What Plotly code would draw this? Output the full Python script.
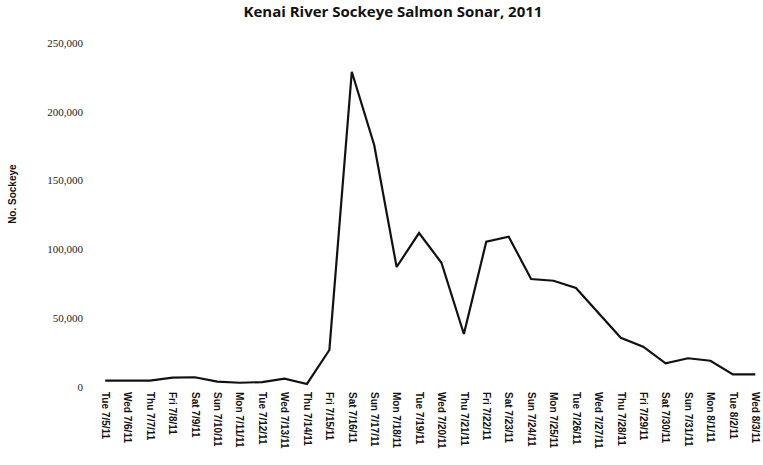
import plotly.graph_objects as go

# Daily sockeye passage counts, Kenai River sonar, 2011
dates = [
    "Tue 7/5/11", "Wed 7/6/11", "Thu 7/7/11", "Fri 7/8/11", "Sat 7/9/11",
    "Sun 7/10/11", "Mon 7/11/11", "Tue 7/12/11", "Wed 7/13/11", "Thu 7/14/11",
    "Fri 7/15/11", "Sat 7/16/11", "Sun 7/17/11", "Mon 7/18/11", "Tue 7/19/11",
    "Wed 7/20/11", "Thu 7/21/11", "Fri 7/22/11", "Sat 7/23/11", "Sun 7/24/11",
    "Mon 7/25/11", "Tue 7/26/11", "Wed 7/27/11", "Thu 7/28/11", "Fri 7/29/11",
    "Sat 7/30/11", "Sun 7/31/11", "Mon 8/1/11", "Tue 8/2/11", "Wed 8/3/11",
]
sockeye = [
    4600, 4600, 4600, 6800, 7100,
    3900, 3100, 3600, 6000, 2200,
    26900, 229100, 175900, 87200, 111900,
    90300, 38500, 105600, 109200, 78500,
    77200, 71900, 54000, 35800, 29300,
    17200, 20900, 19100, 9200, 9200,
]
y_ticks = [0, 50000, 100000, 150000, 200000, 250000]

fig = go.Figure()
fig.add_trace(go.Scatter(
    x=list(range(len(dates))),
    y=sockeye,
    mode="lines",
    line=dict(color="#111111", width=2.2),
    hoverinfo="skip",
))

fig.update_layout(
    width=763,
    height=465,
    margin=dict(l=94, r=1, t=43, b=78),
    paper_bgcolor="white",
    plot_bgcolor="white",
    showlegend=False,
    title=dict(
        text="<b>Kenai River Sockeye Salmon Sonar, 2011</b>",
        x=0.515, xanchor="center",
        y=0.974, yanchor="middle",
        font=dict(family="Open Sans", size=15, color="#111111"),
    ),
    annotations=[dict(
        text="<b>No. Sockeye</b>",
        xref="paper", yref="paper",
        x=-0.122, y=0.56,
        xanchor="center", yanchor="middle",
        textangle=-90,
        showarrow=False,
        font=dict(family="Liberation Sans", size=10, color="#111111"),
    )],
)

fig.update_xaxes(
    range=[-0.5, 29.3],
    tickmode="array",
    tickvals=list(range(len(dates))),
    ticktext=dates,
    tickangle=90,
    tickfont=dict(family="Liberation Sans", size=10, color="#111111", weight="bold"),
    showgrid=False,
    zeroline=False,
    showline=False,
    ticks="",
    ticklabelstandoff=4,
)

fig.update_yaxes(
    range=[0, 250000],
    tickmode="array",
    tickvals=y_ticks,
    ticktext=[f"{v:,}" for v in y_ticks],
    tickfont=dict(family="Liberation Serif", size=11, color="#222222"),
    showgrid=False,
    zeroline=False,
    showline=False,
    ticks="",
    ticklabelstandoff=10,
)

fig.write_html("out.html")
